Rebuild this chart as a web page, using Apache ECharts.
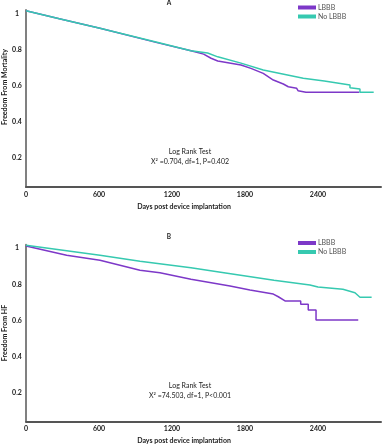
<!DOCTYPE html>
<html>
<head>
<meta charset="utf-8">
<script src="https://cdn.jsdelivr.net/npm/echarts@6/dist/echarts.min.js"></script>
<style>html,body{margin:0;padding:0;background:#fff}#c{width:382px;height:444px}</style>
</head>
<body>
<div id="c"></div>
<script>
// ---- data ----
const dayTicks = [0, 600, 1200, 1800, 2400];
const survTicks = [0.2, 0.4, 0.6, 0.8, 1];
const seriesNames = ['LBBB', 'No LBBB'];

// Panel A: freedom from mortality [days, proportion]
const mortalityLBBB = [[0,1.018],[300,0.97],[608,0.921],[1077,0.841],[1356,0.796],[1460,0.777],[1521,0.754],[1576,0.739],[1767,0.717],[1849,0.698],[1950,0.670],[2033,0.633],[2115,0.611],[2156,0.596],[2225,0.587],[2236,0.574],[2301,0.565],[2740,0.565]];
const mortalityNoLBBB = [[0,1.018],[300,0.97],[608,0.921],[1077,0.843],[1356,0.796],[1493,0.783],[1576,0.762],[1767,0.727],[1950,0.689],[2279,0.643],[2452,0.628],[2663,0.606],[2663,0.590],[2745,0.583],[2745,0.565],[2858,0.565]];

// Panel B: freedom from HF [days, proportion]
const hfLBBB = [[0,1.011],[334,0.960],[608,0.932],[937,0.877],[1101,0.864],[1356,0.827],[1677,0.790],[1841,0.768],[2033,0.746],[2074,0.731],[2129,0.708],[2258,0.708],[2258,0.689],[2320,0.689],[2320,0.658],[2384,0.658],[2384,0.603],[2731,0.603]];
const hfNoLBBB = [[0,1.015],[608,0.960],[937,0.927],[1356,0.891],[1627,0.864],[2038,0.822],[2334,0.796],[2400,0.785],[2605,0.772],[2704,0.753],[2745,0.728],[2841,0.728]];

const testA = ['Log Rank Test', 'X\u00B2 =0.704, df=1, P=0.402'];
const testB = ['Log Rank Test', 'X\u00B2 =74.503, df=1, P<0.001'];

// ---- styling ----
const FONT = 'Lato';
const purple = '#7d38c8';
const teal = '#36c9b0';

function xAx(gi) {
  return {
    type: 'value', gridIndex: gi, min: 0, max: 2918,
    axisLine: {show: true, lineStyle: {color: '#555', width: 2}},
    axisTick: {show: false}, splitLine: {show: false},
    axisLabel: {customValues: dayTicks, formatter: v => String(v), margin: 4, fontFamily: FONT, fontSize: 7, fontWeight: 'bold', color: '#222'}
  };
}
function yAx(gi, mn, mx) {
  return {
    type: 'value', gridIndex: gi, min: mn, max: mx,
    axisLine: {show: true, lineStyle: {color: '#808080', width: 2}},
    axisTick: {show: false}, splitLine: {show: false},
    axisLabel: {customValues: survTicks, formatter: v => String(v), margin: 9, align: 'center', fontFamily: FONT, fontSize: 7, fontWeight: 'bold', color: '#222'}
  };
}
function line(name, data, gi, color) {
  return {name: name, type: 'line', xAxisIndex: gi, yAxisIndex: gi, data: data, symbol: 'none',
    lineStyle: {color: color, width: 1.5}, itemStyle: {color: color}, animation: false};
}
function txt(x, y, s, opts) {
  return {type: 'text', x: x, y: y, style: Object.assign({text: s, fontFamily: FONT, fontSize: 7, fill: '#222', textAlign: 'center', textVerticalAlign: 'middle'}, opts || {})};
}
function legend(top) {
  return {data: seriesNames, orient: 'vertical', left: 293, top: top, icon: 'rect', itemWidth: 18, itemHeight: 4, itemGap: 2,
    textStyle: {fontFamily: FONT, fontSize: 7, color: '#555', padding: [0,0,0,-3]}, selectedMode: false};
}

const chart = echarts.init(document.getElementById('c'), null, {renderer: 'canvas'});
chart.setOption({
  animation: false,
  grid: [
    {left: 26, right: 1, top: 10, height: 177},
    {left: 26, right: 1, top: 244.7, height: 176.6}
  ],
  xAxis: [xAx(0), xAx(1)],
  yAxis: [yAx(0, 0.0389, 1.0222), yAx(1, 0.0439, 1.0182)],
  legend: [legend(-1), legend(234.5)],
  series: [
    line(seriesNames[0], mortalityLBBB, 0, purple),
    line(seriesNames[1], mortalityNoLBBB, 0, teal),
    line(seriesNames[0], hfLBBB, 1, purple),
    line(seriesNames[1], hfNoLBBB, 1, teal)
  ],
  graphic: [
    txt(169, 3, 'A', {fontWeight: 'bold', fontSize: 6.5}),
    txt(169, 237, 'B', {fontWeight: 'bold', fontSize: 6.5}),
    txt(190, 152, testA[0]),
    txt(190, 162, testA[1]),
    txt(190, 386, testB[0]),
    txt(190, 395.5, testB[1]),
    txt(184, 207, 'Days post device implantation', {fontWeight: 'bold'}),
    txt(184, 441, 'Days post device implantation', {fontWeight: 'bold'}),
    Object.assign(txt(4.5, 87, 'Freedom From Mortality', {fontWeight: 'bold'}), {rotation: Math.PI / 2}),
    Object.assign(txt(4.5, 333, 'Freedom From HF', {fontWeight: 'bold'}), {rotation: Math.PI / 2})
  ]
});
</script>
</body>
</html>
